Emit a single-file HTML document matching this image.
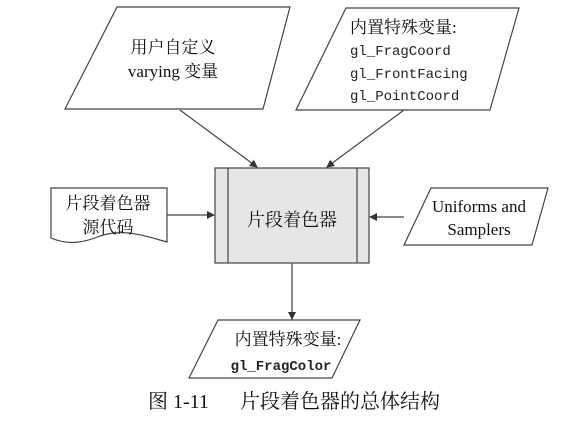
<!DOCTYPE html>
<html><head><meta charset="utf-8"><style>
body{margin:0;background:#fff;}
svg{display:block}
.c{font-family:"Liberation Serif","Noto Serif CJK SC","Noto Sans CJK SC",serif;font-size:17px;fill:#111}
.m{font-family:"Liberation Mono",monospace;font-size:14px;fill:#222}
</style></head><body>
<svg width="565" height="423" viewBox="0 0 565 423" xmlns="http://www.w3.org/2000/svg">
<defs>
<marker id="a" markerWidth="8" markerHeight="8" refX="7" refY="4" orient="auto" markerUnits="userSpaceOnUse">
<path d="M0,0 L8,4 L0,8 z" fill="#333"/></marker>
</defs>
<g fill="none" stroke="#444" stroke-width="1.2">
<polygon points="117,7 290,7 263,109 65,109" fill="#fff"/>
<polygon points="346,8 519,8 490,110 296,110" fill="#fff"/>
<polygon points="431,188 548,188 532,245 404,245" fill="#fff"/>
<polygon points="218,320 360,320 332,378 189,378" fill="#fff"/>
<rect x="215" y="168" width="154" height="95" fill="#e6e6e6"/>
<line x1="228" y1="168" x2="228" y2="263"/>
<line x1="357" y1="168" x2="357" y2="263"/>
<path d="M51,188 L167,188 L167,242 C145,236 125,228 100,236 C85,242 70,246 51,238 Z" fill="#fff"/>
<line x1="180" y1="110" x2="257" y2="167" marker-end="url(#a)"/>
<line x1="404" y1="110" x2="327" y2="167" marker-end="url(#a)"/>
<line x1="167" y1="215" x2="214" y2="215" marker-end="url(#a)"/>
<line x1="404" y1="217" x2="370" y2="217" marker-end="url(#a)"/>
<line x1="292" y1="263" x2="292" y2="319" marker-end="url(#a)"/>
</g>
<text class="c" x="173" y="53" text-anchor="middle">用户自定义</text>
<text class="c" x="173" y="77" text-anchor="middle">varying 变量</text>
<text class="c" x="350" y="33">内置特殊变量:</text>
<text class="m" x="350" y="55">gl_FragCoord</text>
<text class="m" x="350" y="78">gl_FrontFacing</text>
<text class="m" x="350" y="100">gl_PointCoord</text>
<text class="c" x="292" y="226" text-anchor="middle" style="font-size:18px">片段着色器</text>
<text class="c" x="108" y="209" text-anchor="middle">片段着色器</text>
<text class="c" x="108" y="233" text-anchor="middle">源代码</text>
<text class="c" x="479" y="212" text-anchor="middle">Uniforms and</text>
<text class="c" x="479" y="235" text-anchor="middle">Samplers</text>
<text class="c" x="288" y="345" text-anchor="middle">内置特殊变量:</text>
<text class="m" x="281" y="370" text-anchor="middle" style="font-weight:bold">gl_FragColor</text>
<text class="c" x="148" y="408" style="font-size:20px">图 1-11</text>
<text class="c" x="240" y="408" style="font-size:20px">片段着色器的总体结构</text>
</svg>
</body></html>
